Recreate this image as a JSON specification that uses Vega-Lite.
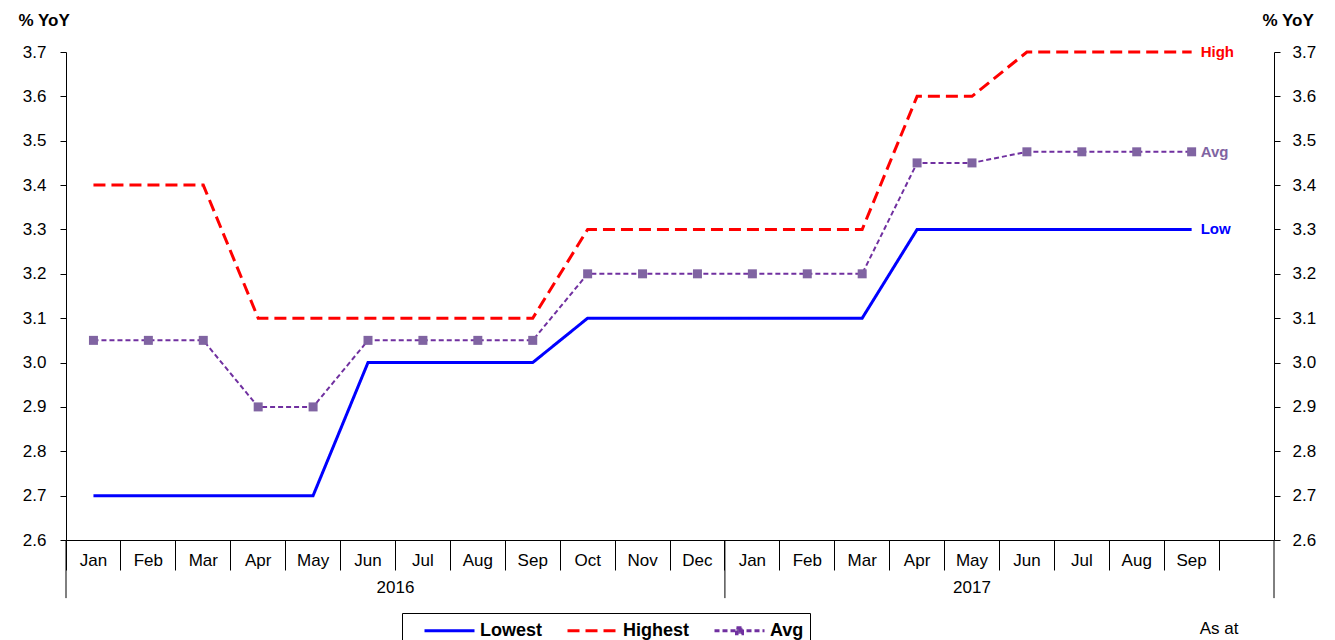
{
  "$schema": "https://vega.github.io/schema/vega-lite/v6.json",
  "width": 1208,
  "height": 488,
  "autosize": "none",
  "padding": {"left": 66, "top": 52, "right": 61, "bottom": 100},
  "background": "#ffffff",
  "config": {
    "view": {"stroke": null},
    "font": "Liberation Sans",
    "axis": {"domainColor": "#000000", "tickColor": "#000000", "labelColor": "#000000", "labelFont": "Liberation Sans", "labelFontSize": 17, "titleFont": "Liberation Sans", "titleFontSize": 17, "titleFontWeight": "bold", "titleColor": "#000000", "grid": false}
  },
  "data": {"values": [
    {"m": "2016-01", "s": "Lowest", "v": 2.7}, {"m": "2016-02", "s": "Lowest", "v": 2.7}, {"m": "2016-03", "s": "Lowest", "v": 2.7}, {"m": "2016-04", "s": "Lowest", "v": 2.7}, {"m": "2016-05", "s": "Lowest", "v": 2.7},
    {"m": "2016-06", "s": "Lowest", "v": 3.0}, {"m": "2016-07", "s": "Lowest", "v": 3.0}, {"m": "2016-08", "s": "Lowest", "v": 3.0}, {"m": "2016-09", "s": "Lowest", "v": 3.0},
    {"m": "2016-10", "s": "Lowest", "v": 3.1}, {"m": "2016-11", "s": "Lowest", "v": 3.1}, {"m": "2016-12", "s": "Lowest", "v": 3.1}, {"m": "2017-01", "s": "Lowest", "v": 3.1}, {"m": "2017-02", "s": "Lowest", "v": 3.1}, {"m": "2017-03", "s": "Lowest", "v": 3.1},
    {"m": "2017-04", "s": "Lowest", "v": 3.3}, {"m": "2017-05", "s": "Lowest", "v": 3.3}, {"m": "2017-06", "s": "Lowest", "v": 3.3}, {"m": "2017-07", "s": "Lowest", "v": 3.3}, {"m": "2017-08", "s": "Lowest", "v": 3.3}, {"m": "2017-09", "s": "Lowest", "v": 3.3},
    {"m": "2016-01", "s": "Highest", "v": 3.4}, {"m": "2016-02", "s": "Highest", "v": 3.4}, {"m": "2016-03", "s": "Highest", "v": 3.4},
    {"m": "2016-04", "s": "Highest", "v": 3.1}, {"m": "2016-05", "s": "Highest", "v": 3.1}, {"m": "2016-06", "s": "Highest", "v": 3.1}, {"m": "2016-07", "s": "Highest", "v": 3.1}, {"m": "2016-08", "s": "Highest", "v": 3.1}, {"m": "2016-09", "s": "Highest", "v": 3.1},
    {"m": "2016-10", "s": "Highest", "v": 3.3}, {"m": "2016-11", "s": "Highest", "v": 3.3}, {"m": "2016-12", "s": "Highest", "v": 3.3}, {"m": "2017-01", "s": "Highest", "v": 3.3}, {"m": "2017-02", "s": "Highest", "v": 3.3}, {"m": "2017-03", "s": "Highest", "v": 3.3},
    {"m": "2017-04", "s": "Highest", "v": 3.6}, {"m": "2017-05", "s": "Highest", "v": 3.6},
    {"m": "2017-06", "s": "Highest", "v": 3.7}, {"m": "2017-07", "s": "Highest", "v": 3.7}, {"m": "2017-08", "s": "Highest", "v": 3.7}, {"m": "2017-09", "s": "Highest", "v": 3.7},
    {"m": "2016-01", "s": "Avg", "v": 3.05}, {"m": "2016-02", "s": "Avg", "v": 3.05}, {"m": "2016-03", "s": "Avg", "v": 3.05},
    {"m": "2016-04", "s": "Avg", "v": 2.9}, {"m": "2016-05", "s": "Avg", "v": 2.9},
    {"m": "2016-06", "s": "Avg", "v": 3.05}, {"m": "2016-07", "s": "Avg", "v": 3.05}, {"m": "2016-08", "s": "Avg", "v": 3.05}, {"m": "2016-09", "s": "Avg", "v": 3.05},
    {"m": "2016-10", "s": "Avg", "v": 3.2}, {"m": "2016-11", "s": "Avg", "v": 3.2}, {"m": "2016-12", "s": "Avg", "v": 3.2}, {"m": "2017-01", "s": "Avg", "v": 3.2}, {"m": "2017-02", "s": "Avg", "v": 3.2}, {"m": "2017-03", "s": "Avg", "v": 3.2},
    {"m": "2017-04", "s": "Avg", "v": 3.45}, {"m": "2017-05", "s": "Avg", "v": 3.45},
    {"m": "2017-06", "s": "Avg", "v": 3.475}, {"m": "2017-07", "s": "Avg", "v": 3.475}, {"m": "2017-08", "s": "Avg", "v": 3.475}, {"m": "2017-09", "s": "Avg", "v": 3.475}
  ]},
  "resolve": {"scale": {"y": "independent"}},
  "layer": [
    {
      "layer": [
        {
          "mark": {"type": "line", "strokeCap": "butt", "strokeJoin": "miter"},
          "encoding": {
            "x": {"field": "m", "type": "nominal", "sort": null,
              "scale": {"type": "band", "paddingInner": 0, "paddingOuter": 0, "domain": ["2016-01","2016-02","2016-03","2016-04","2016-05","2016-06","2016-07","2016-08","2016-09","2016-10","2016-11","2016-12","2017-01","2017-02","2017-03","2017-04","2017-05","2017-06","2017-07","2017-08","2017-09","2017-10"]},
              "axis": {"title": null, "orient": "bottom", "bandPosition": 0, "tickSize": 30, "labelPadding": -18, "labelAngle": 0, "labelBaseline": "top",
                "labelExpr": "datum.value == '2017-10' ? '' : ['Jan','Feb','Mar','Apr','May','Jun','Jul','Aug','Sep','Oct','Nov','Dec'][toNumber(substring(datum.value, 5, 7)) - 1]"}},
            "y": {"field": "v", "type": "quantitative", "scale": {"domain": [2.6, 3.7], "nice": false, "zero": false},
              "axis": {"orient": "left", "values": [2.6,2.7,2.8,2.9,3.0,3.1,3.2,3.3,3.4,3.5,3.6,3.7], "format": ".1f", "tickSize": 6, "labelPadding": 14,
                "title": "% YoY", "titleAngle": 0, "titleAlign": "left", "titleBaseline": "middle", "titleX": -48, "titleY": -32}},
            "color": {"field": "s", "type": "nominal", "scale": {"domain": ["Lowest", "Highest", "Avg"], "range": ["#0000ff", "#ff0000", "#7030a0"]},
              "legend": {"title": null, "orient": "none", "legendX": 336, "legendY": 561, "direction": "horizontal", "strokeColor": "#000000", "fillColor": "#ffffff", "padding": 6,
                "labelFont": "Liberation Sans", "labelFontSize": 18, "labelFontWeight": "bold", "labelColor": "#000000",
                "symbolType": "M0.5,0H5.5", "symbolSize": 400, "symbolStrokeWidth": 3, "labelOffset": 49, "columnPadding": 8,
                "encode": {"symbols": {"update": {
                  "shape": [{"test": "datum.value === 'Avg'", "value": "M0.5,0H5.5M2.7,-0.3H3.3V0.3H2.7Z"}, {"value": "M0.5,0H5.5"}],
                  "fill": [{"test": "datum.value === 'Avg'", "value": "#8064a2"}, {"value": "transparent"}]
                }}}}},
            "strokeDash": {"field": "s", "type": "nominal", "scale": {"domain": ["Lowest", "Highest", "Avg"], "range": [[1, 0], [12, 6], [5, 3]]}},
            "strokeWidth": {"condition": {"test": "datum.s == 'Avg'", "value": 2}, "value": 3}
          }
        },
        {
          "transform": [{"filter": "datum.s == 'Avg'"}],
          "mark": {"type": "square", "size": 81, "filled": true, "color": "#8064a2", "opacity": 1},
          "encoding": {
            "x": {"field": "m", "type": "nominal", "sort": null},
            "y": {"field": "v", "type": "quantitative", "scale": {"domain": [2.6, 3.7], "nice": false, "zero": false}}
          }
        },
        {
          "data": {"values": [{"m": "2016-01", "p": "start"}, {"m": "2017-01", "p": "start"}]},
          "mark": {"type": "rule", "color": "#000000", "strokeWidth": 1},
          "encoding": {
            "x": {"field": "m", "type": "nominal", "sort": null, "bandPosition": 0},
            "y": {"datum": 2.6, "scale": {"domain": [2.6, 3.7], "nice": false, "zero": false}},
            "y2": {"datum": 2.469}
          }
        },
        {
          "data": {"values": [{"m": "2017-10", "p": "end"}]},
          "mark": {"type": "rule", "color": "#000000", "strokeWidth": 1},
          "encoding": {
            "x": {"field": "m", "type": "nominal", "sort": null, "bandPosition": 1},
            "y": {"datum": 2.6, "scale": {"domain": [2.6, 3.7], "nice": false, "zero": false}},
            "y2": {"datum": 2.469}
          }
        },
        {
          "data": {"values": [{"m": "2016-07", "t": "2016"}]},
          "mark": {"type": "text", "font": "Liberation Sans", "fontSize": 17, "color": "#000000", "baseline": "middle", "align": "center", "dy": 48},
          "encoding": {
            "x": {"field": "m", "type": "nominal", "sort": null, "bandPosition": 0},
            "y": {"datum": 2.6, "scale": {"domain": [2.6, 3.7], "nice": false, "zero": false}},
            "text": {"field": "t"}
          }
        },
        {
          "data": {"values": [{"m": "2017-05", "t": "2017"}]},
          "mark": {"type": "text", "font": "Liberation Sans", "fontSize": 17, "color": "#000000", "baseline": "middle", "align": "center", "dy": 48},
          "encoding": {
            "x": {"field": "m", "type": "nominal", "sort": null, "bandPosition": 0.5},
            "y": {"datum": 2.6, "scale": {"domain": [2.6, 3.7], "nice": false, "zero": false}},
            "text": {"field": "t"}
          }
        },
        {
          "data": {"values": [{"m": "2017-10", "t": "As at"}]},
          "mark": {"type": "text", "font": "Liberation Sans", "fontSize": 17, "color": "#000000", "baseline": "middle", "align": "center", "dy": 89},
          "encoding": {
            "x": {"field": "m", "type": "nominal", "sort": null, "bandPosition": 0},
            "y": {"datum": 2.6, "scale": {"domain": [2.6, 3.7], "nice": false, "zero": false}},
            "text": {"field": "t"}
          }
        }
      ]
    },
    {
      "data": {"values": [{"m": "2017-09", "v": 3.7, "t": "High"}, {"m": "2017-09", "v": 3.475, "t": "Avg"}, {"m": "2017-09", "v": 3.3, "t": "Low"}]},
      "mark": {"type": "text", "font": "Liberation Sans", "fontSize": 15, "fontWeight": "bold", "align": "left", "baseline": "middle", "dx": 9},
      "encoding": {
        "x": {"field": "m", "type": "nominal", "sort": null},
        "y": {"field": "v", "type": "quantitative", "scale": {"domain": [2.6, 3.7], "nice": false, "zero": false},
          "axis": {"orient": "right", "values": [2.6,2.7,2.8,2.9,3.0,3.1,3.2,3.3,3.4,3.5,3.6,3.7], "format": ".1f", "tickSize": 6, "labelPadding": 12,
            "title": "% YoY", "titleAngle": 0, "titleAlign": "left", "titleBaseline": "middle", "titleX": -12, "titleY": -32}},
        "text": {"field": "t"},
        "color": {"condition": [{"test": "datum.t == 'High'", "value": "#ff0000"}, {"test": "datum.t == 'Low'", "value": "#0000ff"}], "value": "#8064a2"}
      }
    }
  ]
}
